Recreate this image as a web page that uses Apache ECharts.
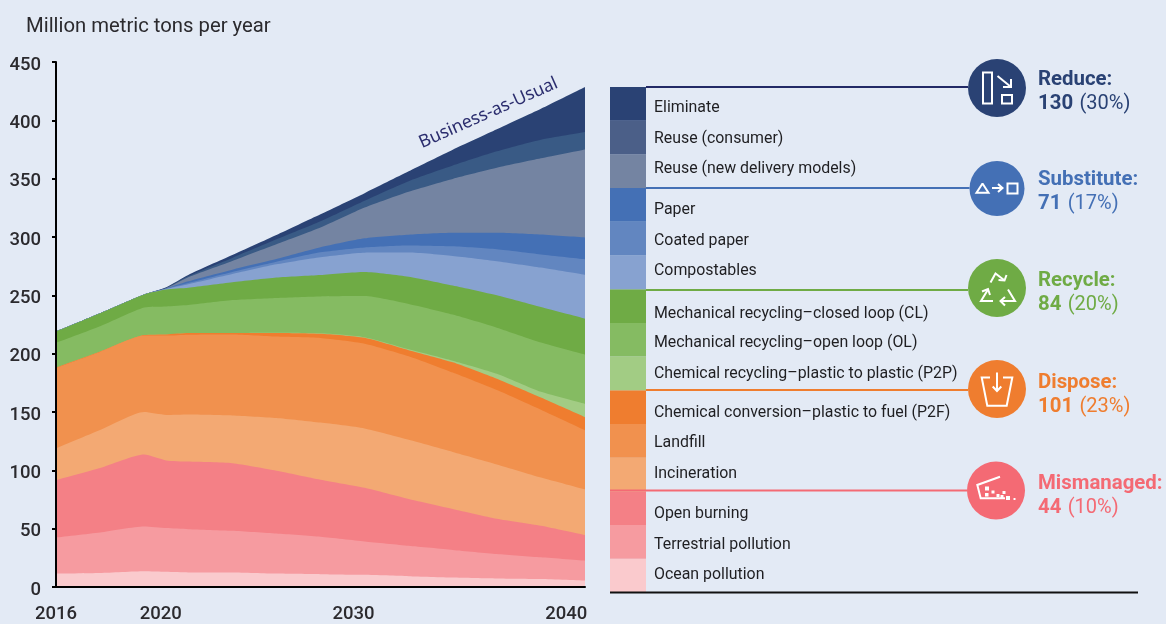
<!DOCTYPE html>
<html><head><meta charset="utf-8">
<style>html,body{margin:0;padding:0;background:#e3eaf5}#c{width:1166px;height:624px}</style>
<script src="https://cdn.jsdelivr.net/npm/echarts@6/dist/echarts.min.js"></script>
</head><body><div id="c"></div>
<script>
const years=[2016,2018,2020,2021,2022,2024,2026,2028,2030,2032,2034,2036,2038,2040];
const xTickLabels=['2016','2020','2030','2040'];
const yTickMax=450, yTickStep=50;
const names=['Ocean pollution','Terrestrial pollution','Open burning','Incineration','Landfill','Chemical conversion–plastic to fuel (P2F)','Chemical recycling–plastic to plastic (P2P)','Mechanical recycling–open loop (OL)','Mechanical recycling–closed loop (CL)','Compostables','Coated paper','Paper','Reuse (new delivery models)','Reuse (consumer)','Eliminate'];
const ocean=[11.5,12,13.5,13,12.5,12.5,11.5,11,10.4,9.3,8.1,7.3,6.8,5.5];
const terrestrial=[31,34.8,38.4,37.5,37.1,35.7,34.3,32,28.6,26,23.7,21,18.6,17];
const openBurning=[49,55.1,61.6,58,57.9,57.9,53.9,49,46,40.1,35,30.1,27,22];
const incineration=[27.3,32.6,36.4,39,40.4,41,45.2,48.9,50.9,50.8,49,46.7,41.5,39.2];
const landfill=[69,67,65.6,68,68.4,69.4,69.8,72.6,72.7,71.6,68,63.7,58,50.6];
const p2f=[.2,.3,.5,1,1.4,1.2,3.1,3.6,5,5.2,8.8,9.7,10.5,11.3];
const p2p=[0,0,0,0,0,.1,.2,.4,.5,.8,1.4,4.3,4.9,11.4];
const mechOL=[21.2,21.6,23.5,24,24,28.1,29.8,31.6,35.3,38.8,39.5,39.5,42.3,42.3];
const mechCL=[9.9,11.3,11.3,14.5,14.8,15.3,17.5,18.4,20.7,23.4,24.9,27.7,30.3,30.7];
const compostables=[0,0,0,.5,3,7.1,11.3,15.2,16.5,20.7,25.4,29.3,33.9,37.6];
const coatedPaper=[0,0,0,.2,1,1.7,2.2,4.2,4.5,6.1,8.2,10.2,11.3,13.4];
const paper=[0,0,0,.2,1.5,2,2.3,4.3,7.8,9.2,11.6,14.1,17,18.6];
const reuseDelivery=[0,0,0,.2,3.5,7.5,12.7,16.9,26.3,36.8,46.2,55.7,65.3,75.4];
const reuseConsumer=[0,0,0,.4,1,2.6,4.2,5.4,5.9,9,11.4,14.1,16,15];
const eliminate=[0,0,0,.5,1,2.4,3.7,6,6.5,8.5,13.6,18.9,26.5,38.6];
const layers=[ocean,terrestrial,openBurning,incineration,landfill,p2f,p2p,mechOL,mechCL,compostables,coatedPaper,paper,reuseDelivery,reuseConsumer,eliminate];
const areaColors=['#facacd','#f69ba0','#f48086','#f3a973','#f1914e','#ef7d2f','#a2cc84','#85bb62','#6fab45','#87a2d0','#6286c0','#4470b5','#7484a2','#395a85','#2a4274'];
const legendColors=['#facacd','#f69ba0','#f48086','#f3a973','#f1914e','#ef7d2f','#a2cc84','#85bb62','#6fab45','#87a2d0','#6286c0','#4470b5','#7484a2','#4b5f88','#2a4274'];
const labelShift=[-1,3,6,-1,2,6,1,3,8,-1,2,5,-2,1,4];
const groupNames=['Reduce:','Substitute:','Recycle:','Dispose:','Mismanaged:'];
const groupAmounts=['130','71','84','101','44'];
const groupShares=['(30%)','(17%)','(20%)','(23%)','(10%)'];
const groupColors=['#2a4274','#4470b5','#6fab45','#ef7d2f','#f46a74'];

const FONT='Roboto';
const W={stroke:'#fff',lineWidth:2,fill:'none'};
function poly(p,extra){return {type:'polyline',z:12,shape:{points:p},style:Object.assign({},W,extra||{})};}
function box(x,y,w,h){return {type:'rect',z:12,shape:{x,y,width:w,height:h},style:W};}
function dot(x,y,s){return {type:'rect',z:12,shape:{x,y,width:s,height:s},style:{fill:'#fff'}};}
const circles=[[997,88,29],[997,188.5,27.5],[997,288,29],[997,389,29],[996,490.5,29]];
const lineYs=[87,188,290,390,490.5];
const lineStart=[646,646,646,646,610];
const textYs=[78,178,279,381,482];
const g=[];
circles.forEach((c,i)=>{
  g.push({type:'line',z:10,shape:{x1:lineStart[i],y1:lineYs[i],x2:c[0]-c[2],y2:lineYs[i]},style:{stroke:i==0?'#232a66':groupColors[i],lineWidth:1.8}});
  g.push({type:'circle',z:11,shape:{cx:c[0],cy:c[1],r:c[2]},style:{fill:groupColors[i]}});
  g.push({type:'text',z:11,x:1038,y:textYs[i]+2,style:{text:groupNames[i],fill:groupColors[i],font:'700 20.4px '+FONT,textVerticalAlign:'middle'}});
  g.push({type:'text',z:11,x:1038,y:textYs[i]+26,style:{
    text:'{a|'+groupAmounts[i]+'} {b|'+groupShares[i]+'}',textVerticalAlign:'middle',
    rich:{a:{font:'700 20.4px '+FONT,fill:groupColors[i]},b:{font:'400 20px '+FONT,fill:groupColors[i],padding:[0,0,0,3]}}}});
});
// icons
g.push(box(983,72.5,9,31),box(1002,95,10,8.5),
  poly([[997.5,76],[1011,87]]),poly([[1011,79],[1011,87],[1003,87]]));
g.push(poly([[982.5,183.5],[988.5,192.7],[976.5,192.7],[982.5,183.5]]),
  poly([[992,188],[1002,188]]),poly([[998,184],[1002.5,188],[998,192]]),box(1007.5,183.5,10,10));
g.push(poly([[990.5,282.5],[995.5,273.5],[1004,280]]),poly([[1006.5,275],[1004.5,280.5],[998.5,280]]),
  poly([[993,301],[981,301],[988,289.5]]),poly([[982,291.5],[988,289],[990,295]]),
  poly([[1008,289.5],[1015,301],[1001,301]]),poly([[1005,297],[1000.5,301],[1005,305.5]]));
g.push(poly([[990,377.5],[981.7,377.5],[987.3,405.7],[1006.7,405.7],[1012.3,377.5],[1003,377.5]]),
  poly([[997,372.5],[997,390.5]]),poly([[992.7,386.5],[997,391],[1001.3,386.5]]));
g.push(poly([[1000,476.7],[977.3,485],[980.7,498.3],[1005,498.3]]),
  dot(985,486.5,4),dot(991.5,490.5,3),dot(985,493,3.5),dot(996.5,494,3),dot(1002.5,491,3),dot(1000.5,495,3),dot(1006,496,4),dot(1013.5,498,2));
// right-panel baseline, title, annotation
g.push({type:'line',z:10,shape:{x1:610,y1:592.5,x2:1138,y2:592.5},style:{stroke:'#111',lineWidth:2}});
g.push({type:'text',x:26,y:27,style:{text:'Million metric tons per year',fill:'#2b2a2e',font:'400 20.3px '+FONT,textVerticalAlign:'middle'}});
g.push({type:'text',x:488.5,y:113,rotation:0.42,style:{text:'Business-as-Usual',fill:'#2b2d6e',font:'400 17.7px "Noto Sans"',textAlign:'center',textVerticalAlign:'middle'}});

const tickFont={fontFamily:FONT,fontWeight:500,fontSize:18.5,color:'#2b2a2e'};
const xTickAt=[2016,2020.75,2029.5,2039.15];
// running totals of the layers; painted from the largest total down so each layer shows its own band
const totals=[]; layers.forEach((d,i)=>totals.push(d.map((v,k)=>v+(i?totals[i-1][k]:0))));
const series=[];
for(let i=layers.length-1;i>=0;i--) series.push({
  type:'line',name:names[i],xAxisIndex:0,yAxisIndex:0,smooth:0.2,
  data:totals[i].map((v,k)=>[years[k],v]),symbol:'none',showSymbol:false,silent:true,
  lineStyle:{width:0},itemStyle:{color:areaColors[i]},areaStyle:{color:areaColors[i],opacity:1}
});
names.forEach((n,i)=>series.push({
  type:'bar',name:n,stack:'rows',xAxisIndex:1,yAxisIndex:1,data:[1],barWidth:'100%',silent:true,
  itemStyle:{color:legendColors[i]},
  label:{show:true,position:'right',distance:8,offset:[0,labelShift[i]],formatter:n,fontFamily:FONT,fontSize:15.9,color:'#1f1f22'}
}));
const chart=echarts.init(document.getElementById('c'),null,{renderer:'canvas'});
chart.setOption({
  animation:false,backgroundColor:'#e3eaf5',
  grid:[{left:56,right:581,top:62,height:530.5},{left:610,top:87,width:36,height:505.5}],
  xAxis:[{type:'value',gridIndex:0,min:2016,max:2040,splitLine:{show:false},
    axisLine:{show:true,onZero:false,lineStyle:{color:'#000',width:2}},axisTick:{show:false},z:5,
    axisLabel:Object.assign({customValues:xTickAt,margin:18,formatter:(v)=>xTickLabels[xTickAt.indexOf(v)]},tickFont)},
   {type:'category',gridIndex:1,data:['rows'],show:false}],
  yAxis:[{type:'value',gridIndex:0,min:0,max:yTickMax,interval:yTickStep,splitLine:{show:false},z:5,
    axisLine:{show:true,lineStyle:{color:'#000',width:2}},axisTick:{show:true,length:4,lineStyle:{color:'#000',width:2}},
    axisLabel:Object.assign({margin:15,verticalAlign:'top',lineHeight:6},tickFont)},
   {type:'value',gridIndex:1,min:0,max:names.length,show:false}],
  graphic:{elements:g},
  series
});
</script></body></html>
